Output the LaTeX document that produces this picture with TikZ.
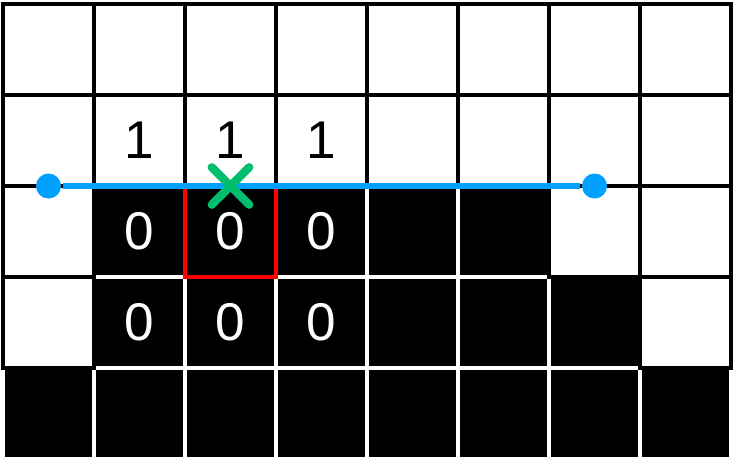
\documentclass[tikz,border=0pt]{standalone}
\usepackage{fontspec}
\setsansfont{Liberation Sans}
\usetikzlibrary{shapes.misc}
\definecolor{skyblue}{RGB}{0,160,255}
\definecolor{mint}{RGB}{0,190,110}
\begin{document}
\begin{tikzpicture}[node distance={10mm}, line width=1.1pt,
	cell/.style = {draw, minimum size=10mm, inner sep=0pt, outer sep=0pt, font=\sffamily\fontsize{16.6}{20}\selectfont},
	blk/.style = {cell, fill=black, draw=white, text=white},
	wht/.style = {cell, fill=white, draw=black, text=black},
	dot/.style = {circle, fill=skyblue, inner sep=0pt, minimum size=2.75mm},
	cross/.style = {cross out, draw=mint, line width=2.6pt, line cap=round, minimum size=3.2mm, inner sep=0pt}]
		\useasboundingbox (-0.533,-0.533) rectangle (7.533,4.544);
		% bottom row
		\node[blk] (1) {};
		\node[blk] (2) [right of=1] {};
		\node[blk] (3) [right of=2] {};
		\node[blk] (4) [right of=3] {};
		\node[blk] (5) [right of=4] {};
		\node[blk] (6) [right of=5] {};
		\node[blk] (7) [right of=6] {};
		\node[blk] (8) [right of=7] {};
		% black cells above
		\node[blk] (9) [above of=2] {0};
		\node[blk] (10) [right of=9] {0};
		\node[blk] (11) [right of=10] {0};
		\node[blk] (12) [right of=11] {};
		\node[blk] (13) [right of=12] {};
		\node[blk] (14) [right of=13] {};
		\node[blk] (15) [above of=9] {0};
		\node[blk] (16) [right of=15] {0};
		\node[blk] (17) [right of=16] {0};
		\node[blk] (18) [right of=17] {};
		\node[blk] (19) [right of=18] {};
		% white cells
		\node[wht] (20) [left of=9] {};
		\node[wht] (21) [right of=14] {};
		\node[wht] (22) [above of=20] {};
		\node[wht] (23) [right of=19] {};
		\node[wht] (24) [right of=23] {};
		\node[wht] (25) [above of=22] {};
		\node[wht] (26) [right of=25] {1};
		\node[wht] (27) [right of=26] {1};
		\node[wht] (28) [right of=27] {1};
		\node[wht] (29) [right of=28] {};
		\node[wht] (30) [right of=29] {};
		\node[wht] (31) [right of=30] {};
		\node[wht] (32) [right of=31] {};
		\node[wht] (33) [above of=25] {};
		\node[wht] (34) [right of=33] {};
		\node[wht] (35) [right of=34] {};
		\node[wht] (36) [right of=35] {};
		\node[wht] (37) [right of=36] {};
		\node[wht] (38) [right of=37] {};
		\node[wht] (39) [right of=38] {};
		\node[wht] (40) [right of=39] {};
		% marks
		\draw[red, line width=1.5pt] (16.south west) rectangle (16.north east);
		\node[dot] (a) at (22.north) {};
		\node[dot] (b) at (23.north) {};
		\draw[skyblue, line width=2pt] (a) -- (b);
		\node[cross] (x) at (16.north) {};
\end{tikzpicture}
\end{document}
